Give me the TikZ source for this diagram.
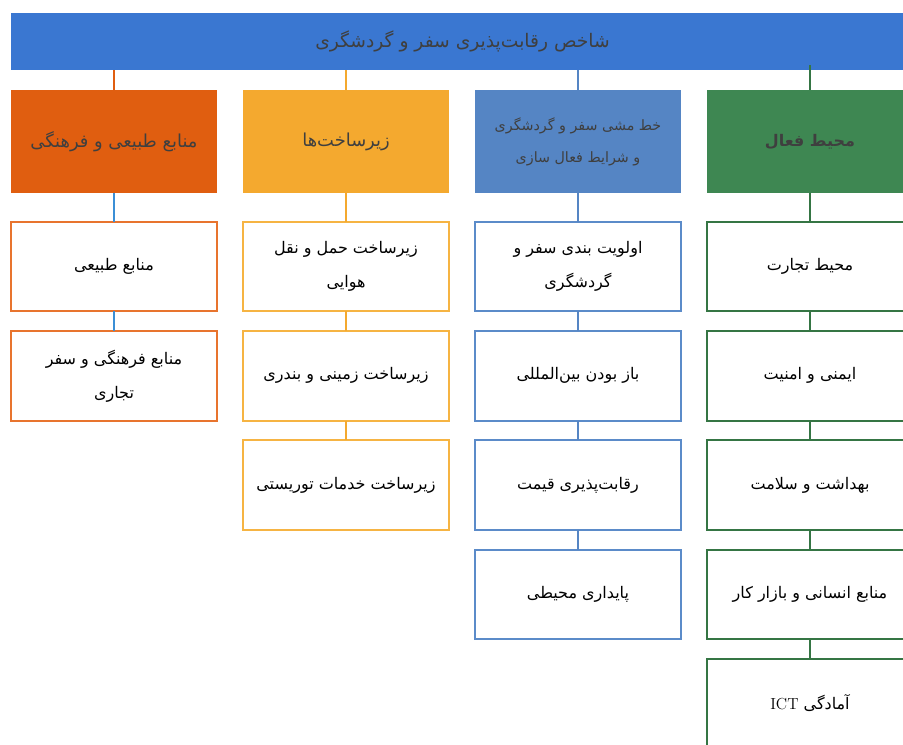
\documentclass[tikz,border=0pt]{standalone}
\usepackage{fontspec}
\TeXXeTstate=1
\newfontfamily\arabicfont[Script=Arabic]{DejaVu Sans}
\usetikzlibrary{positioning}
\definecolor{ttblue}{HTML}{3A77D1}
\definecolor{ttorange}{HTML}{E05E10}
\definecolor{ttorangeln}{HTML}{E8742E}
\definecolor{ttgold}{HTML}{F4A92F}
\definecolor{ttgoldln}{HTML}{F6B443}
\definecolor{ttsteel}{HTML}{5585C4}
\definecolor{ttsteelln}{HTML}{5B8BC9}
\definecolor{ttgreen}{HTML}{3E8752}
\definecolor{ttgreenln}{HTML}{357544}
\definecolor{ttsky}{HTML}{3B8FD6}
\definecolor{tttext}{HTML}{3F3F3F}
\newcommand{\fa}[1]{\beginR #1\endR}

\begin{document}
\begin{tikzpicture}[
  node distance=21.75pt and 19.5pt,
  hdr/.style={minimum width=154.5pt, minimum height=77.25pt, inner sep=0pt,
    outer sep=0pt, align=center, text=tttext,
    font=\arabicfont\fontsize{13.4}{24}\selectfont},
  item/.style={draw, line width=1.5pt, fill=white, minimum width=154.5pt,
    minimum height=67pt, inner sep=0pt, outer sep=0pt, align=center,
    font=\arabicfont\fontsize{12}{25.5}\selectfont},
  link/.style={line width=1.5pt}
]
  \clip (0,0) rectangle (677.25pt,-558.75pt);

  % --- Index banner ---
  \node[fill=ttblue, minimum width=677.25pt, minimum height=42.75pt, inner sep=0pt,
    text=tttext, font=\arabicfont\fontsize{14}{16}\selectfont]
    (idx) at (346.875pt,-31.125pt) {\fa{شاخص رقابت‌پذیری سفر و گردشگری}};

  % --- Pillars ---
  \node[hdr, fill=ttorange] (nat) at (85.5pt,-106.125pt) {\fa{منابع طبیعی و فرهنگی}};
  \node[hdr, fill=ttgold, right=of nat] (inf) {\fa{زیرساخت‌ها}};
  \node[hdr, fill=ttsteel, font=\arabicfont\fontsize{10.7}{24}\selectfont, right=of inf] (pol)
    {\fa{خط مشی سفر و گردشگری}\\\fa{و شرایط فعال سازی}};
  \node[hdr, fill=ttgreen, font=\arabicfont\bfseries\fontsize{12}{18}\selectfont, right=of pol] (env)
    {\fa{محیط فعال}};

  % --- Natural and cultural resources ---
  \node[item, draw=ttorangeln, below=of nat] (natA) {\fa{منابع طبیعی}};
  \node[item, draw=ttorangeln, below=14.9pt of natA] (natB)
    {\fa{منابع فرهنگی و سفر}\\\fa{تجاری}};

  % --- Infrastructure ---
  \node[item, draw=ttgoldln, below=of inf] (infA) {\fa{زیرساخت حمل و نقل}\\\fa{هوایی}};
  \node[item, draw=ttgoldln, below=14.9pt of infA] (infB) {\fa{زیرساخت زمینی و بندری}};
  \node[item, draw=ttgoldln, below=14.9pt of infB] (infC) {\fa{زیرساخت خدمات توریستی}};

  % --- Policy and enabling conditions ---
  \node[item, draw=ttsteelln, below=of pol] (polA) {\fa{اولویت بندی سفر و}\\\fa{گردشگری}};
  \node[item, draw=ttsteelln, below=14.9pt of polA] (polB) {\fa{باز بودن بین‌المللی}};
  \node[item, draw=ttsteelln, below=14.9pt of polB] (polC) {\fa{رقابت‌پذیری قیمت}};
  \node[item, draw=ttsteelln, below=14.9pt of polC] (polD) {\fa{پایداری محیطی}};

  % --- Enabling environment ---
  \node[item, draw=ttgreenln, below=of env] (envA) {\fa{محیط تجارت}};
  \node[item, draw=ttgreenln, below=14.9pt of envA] (envB) {\fa{ایمنی و امنیت}};
  \node[item, draw=ttgreenln, below=14.9pt of envB] (envC) {\fa{بهداشت و سلامت}};
  \node[item, draw=ttgreenln, below=14.9pt of envC] (envD) {\fa{منابع انسانی و بازار کار}};
  \node[item, draw=ttgreenln, below=14.9pt of envD] (envE)
    {\fa{آمادگی \beginL{\rmfamily ICT}\endL}};

  % Banner -> pillars
  \draw[link, ttorange] (nat.north) -- (nat.north |- idx.south);
  \draw[link, ttgold] (inf.north) -- (inf.north |- idx.south);
  \draw[link, ttsteel] (pol.north) -- (pol.north |- idx.south);
  \draw[link, ttgreenln] (env.north) -- ([yshift=3.75pt]env.north |- idx.south);

  % Pillars -> items
  \draw[link, ttsky] (nat) -- (natA);
  \draw[link, ttsky] (natA) -- (natB);
  \draw[link, ttgold] (inf) -- (infA);
  \draw[link, ttgold] (infA) -- (infB);
  \draw[link, ttgold] (infB) -- (infC);
  \draw[link, ttsteel] (pol) -- (polA);
  \draw[link, ttsteel] (polA) -- (polB);
  \draw[link, ttsteel] (polB) -- (polC);
  \draw[link, ttsteel] (polC) -- (polD);
  \draw[link, ttgreenln] (env) -- (envA);
  \draw[link, ttgreenln] (envA) -- (envB);
  \draw[link, ttgreenln] (envB) -- (envC);
  \draw[link, ttgreenln] (envC) -- (envD);
  \draw[link, ttgreenln] (envD) -- (envE);

\end{tikzpicture}
\end{document}
